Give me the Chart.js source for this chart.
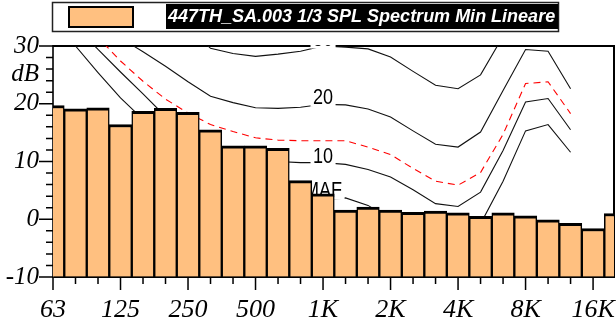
<!DOCTYPE html>
<html><head><meta charset="utf-8">
<script src="https://cdn.jsdelivr.net/npm/chart.js@4.4.1/dist/chart.umd.min.js"></script>
<style>html,body{margin:0;padding:0;background:#fff;overflow:hidden}#wrap{width:616px;height:325px;position:relative}</style>
</head><body><div id="wrap"><canvas id="c"></canvas></div>
<script>
// 1/3 octave band centres (bar positions)
const categories = ['63','80','100','125','160','200','250','315','400','500','630','800','1K','1.25K','1.6K','2K','2.5K','3.15K','4K','5K','6.3K','8K','10K','12.5K','16K','20K'];
// 447TH_SA.003 1/3 SPL Spectrum Min Lineare (dB)
const splMin = [19.7,19.1,19.3,16.4,18.7,19.2,18.5,15.5,12.7,12.7,12.3,6.7,4.4,1.6,2.1,1.6,1.2,1.4,1.1,0.5,1.1,0.6,-0.1,-0.7,-1.6,1.0];
// reference contours, 63 Hz .. 12.5 kHz
const curveMAF = [34.5,30.0,25.4,21.0,17.3,14.0,11.0,8.5,6.5,5.0,4.2,3.6,3.2,3.7,2.4,0.0,-2.5,-4.5,-4.0,-0.8,6.6,15.3,16.4,11.6];
const curve10  = [37.0,33.5,29.4,25.5,21.7,17.8,15.0,13.0,11.5,10.6,10.0,9.8,9.8,9.5,8.6,7.3,5.1,2.7,2.2,4.7,11.9,20.3,20.9,15.5];
const curveRed = [39.3,35.4,31.5,27.4,23.9,20.8,18.4,16.4,15.2,14.1,13.7,13.6,13.6,13.6,12.5,11.2,8.8,6.6,5.9,8.1,14.7,23.5,23.8,18.3];
const curve20  = [40.0,37.0,34.0,31.4,29.0,26.5,23.8,21.3,20.2,19.3,19.2,19.4,19.9,19.8,19.1,17.7,15.3,13.0,12.5,15.1,22.3,29.4,29.1,22.6];
const curve30  = [60.0,55.0,50.0,46.0,41.5,37.5,33.5,29.6,28.7,28.2,28.6,29.1,30.0,29.8,29.5,28.1,25.6,23.2,22.6,25.0,31.7,40.0,40.0,33.0];
// curve labels (placed at 1K)
const curveLabels = ['30','20','10','MAF'];
const curveLabelValues = [30.0,19.9,9.8,3.8];
const curveLabelAt = '1K';
// tick labels
const xTickLabels = ['63','125','250','500','1K','2K','4K','8K','16K'];
const yTickValues = [-10,0,10,20,25,30];
const yTickLabels = ['-10','0','10','20','dB','30'];
const legendText = '447TH_SA.003 1/3 SPL Spectrum Min Lineare';

const idx = l => categories.indexOf(l);
const xy = arr => arr.map((v,i)=>({x:i,y:v}));
const BAR_COLOR = 'rgb(255,192,128)';

const deco = {
  id:'deco',
  beforeDatasetsDraw(chart){
    const a = chart.chartArea, ctx = chart.ctx;
    ctx.save();
    ctx.strokeStyle = '#000'; ctx.lineWidth = 2;
    ctx.beginPath();
    ctx.moveTo(a.left, a.top); ctx.lineTo(a.right, a.top); ctx.lineTo(a.right, a.bottom);
    ctx.stroke();
    ctx.restore();
  },
  beforeDatasetDraw(chart, args){
    if (args.meta.type !== 'bar') return;
    const a = chart.chartArea, ctx = chart.ctx;
    const xs = chart.scales.x, ys = chart.scales.y;
    ctx.save();
    ctx.beginPath(); ctx.rect(a.left, a.top-1, a.right-a.left, a.bottom-a.top+1); ctx.clip();
    const size = 22;
    ctx.font = size+'px "Liberation Sans Narrow", "Liberation Sans"';
    const wN = ctx.measureText('10').width;
    ctx.font = size+'px "Liberation Sans"';
    const wR = ctx.measureText('10').width;
    let sx = 1;
    if (Math.abs(wN-wR) < 0.5) { sx = 0.82; } else { ctx.font = size+'px "Liberation Sans Narrow", "Liberation Sans"'; }
    ctx.textAlign = 'center'; ctx.textBaseline = 'alphabetic';
    const cx = xs.getPixelForValue(idx(curveLabelAt));
    curveLabels.forEach((t,k)=>{
      const by = ys.getPixelForValue(curveLabelValues[k]);
      const w = ctx.measureText(t).width*sx;
      ctx.fillStyle = '#fff';
      ctx.fillRect(cx-w/2-2.5, by-size*0.75, w+5, size*0.75+2.5);
      ctx.fillStyle = '#000';
      ctx.save(); ctx.translate(cx, by); ctx.scale(sx,1); ctx.fillText(t,0,0); ctx.restore();
    });
    ctx.restore();
  },
  afterDraw(chart){
    const a = chart.chartArea, ctx = chart.ctx;
    const xs = chart.scales.x, ys = chart.scales.y;
    ctx.save();
    ctx.strokeStyle = '#000'; ctx.lineWidth = 1.5;
    ctx.beginPath();
    for (let i=0;i<categories.length;i++){
      const x = xs.getPixelForValue(i);
      if (x > a.right+0.5) continue;
      const len = xTickLabels.includes(categories[i]) ? 13 : 7;
      ctx.moveTo(x, a.bottom); ctx.lineTo(x, a.bottom+len);
    }
    for (let v=ys.min; v<=ys.max; v+=2){
      const y = ys.getPixelForValue(v);
      const len = v%10===0 ? 14 : 7;
      ctx.moveTo(a.left-len, y); ctx.lineTo(a.left, y);
    }
    ctx.stroke();
    // legend
    ctx.lineWidth = 1.5; ctx.strokeStyle = '#222';
    ctx.strokeRect(52.5, 2.5, 506, 29);
    ctx.fillStyle = BAR_COLOR; ctx.fillRect(69, 7, 64, 20);
    ctx.lineWidth = 2; ctx.strokeStyle = '#000'; ctx.strokeRect(69, 7, 64, 20);
    ctx.font = 'italic bold 18px "Liberation Sans"';
    const tw = ctx.measureText(legendText).width;
    ctx.fillStyle = '#000'; ctx.fillRect(166, 4, tw+5, 25);
    ctx.fillStyle = '#fff'; ctx.textBaseline = 'middle'; ctx.textAlign = 'left';
    ctx.fillText(legendText, 168, 17);
    ctx.restore();
  }
};

const lineDs = (data, color, dash) => ({
  type:'line', data: xy(data), borderColor: color, borderWidth: 1.1, borderDash: dash||[],
  pointRadius: 0, tension: 0, fill: false, order: 1, clip: 0
});

const HIDDEN = 'rgba(0,0,0,0)';

new Chart(document.getElementById('c'), {
  data: {
    datasets: [
      { type:'bar', label: legendText, data: xy(splMin), base: -10,
        backgroundColor: BAR_COLOR, borderColor: '#000',
        borderWidth: {top:3, left:1.5, right:1.5, bottom:0}, borderSkipped: false,
        barPercentage: 1, categoryPercentage: 1, order: 0, clip: 0 },
      lineDs(curve30, '#111'),
      lineDs(curve20, '#111'),
      lineDs(curveRed, 'rgb(255,0,0)', [7,5]),
      lineDs(curve10, '#111'),
      lineDs(curveMAF, '#111')
    ]
  },
  options: {
    responsive: true, maintainAspectRatio: false, animation: false,
    events: [],
    layout: { padding: { top: 46, right: 2, left: 0, bottom: 0 } },
    plugins: { legend: { display: false }, tooltip: { enabled: false } },
    scales: {
      x: {
        type: 'linear', min: 0, max: 24.93, offset: false,
        afterBuildTicks: s => { s.ticks = xTickLabels.map(l => ({ value: idx(l) })); },
        afterFit: s => { s.height = 48; },
        ticks: {
          autoSkip: false, maxRotation: 0, minRotation: 0, padding: 0, color: '#000',
          font: { family: '"Liberation Serif"', style: 'italic', size: 26 },
          callback: v => categories[v]
        },
        grid: { display: true, drawOnChartArea: false, drawTicks: true, tickLength: 18, tickColor: HIDDEN, offset: false },
        border: { display: true, color: '#000', width: 2 }
      },
      y: {
        type: 'linear', min: -10, max: 30,
        afterBuildTicks: s => { s.ticks = yTickValues.map(v => ({ value: v })); },
        afterFit: s => { s.width = 53; },
        ticks: {
          autoSkip: false, padding: 0, color: '#000',
          font: { family: '"Liberation Serif"', style: 'italic', size: 25 },
          callback: v => yTickLabels[yTickValues.indexOf(v)]
        },
        grid: { display: true, drawOnChartArea: false, drawTicks: true, tickLength: 14, tickColor: HIDDEN },
        border: { display: true, color: '#333', width: 2 }
      }
    }
  },
  plugins: [deco]
});
</script></body></html>
